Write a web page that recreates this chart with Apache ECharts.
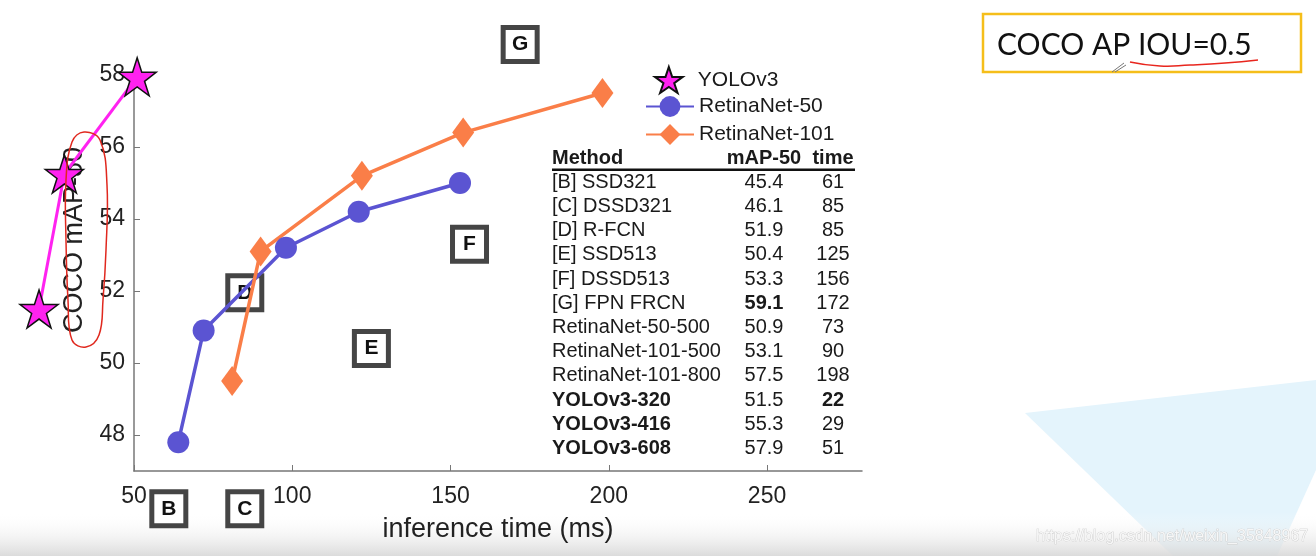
<!DOCTYPE html>
<html><head><meta charset="utf-8">
<script src="https://cdn.jsdelivr.net/npm/echarts@6/dist/echarts.min.js"></script>
<style>html,body{margin:0;padding:0;background:#fff}#c{width:1316px;height:556px}</style>
</head><body><div id="c"></div>
<script>
// ---- data ----
const yoloData = [[20, 51.5], [28, 55.25], [51, 57.95]];
const retina50Data = [[64, 47.8], [72, 50.9], [98, 53.2], [121, 54.2], [153, 55.0]];
const retina101Data = [[81, 49.5], [90, 53.1], [122, 55.2], [154, 56.4], [198, 57.5]];
const letterNames = ['B', 'C', 'D', 'E', 'F', 'G'];
const letterPos = [[61, 45.95], [85, 45.95], [85, 51.95], [125, 50.4], [156, 53.3], [172, 58.85]];
const xTicks = [50, 100, 150, 200, 250];
const yTicks = [48, 50, 52, 54, 56, 58];
const legendNames = ['YOLOv3', 'RetinaNet-50', 'RetinaNet-101'];
const tableHeader = ['Method', 'mAP-50', 'time'];
const tableMethods = ['[B] SSD321', '[C] DSSD321', '[D] R-FCN', '[E] SSD513', '[F] DSSD513', '[G] FPN FRCN',
  'RetinaNet-50-500', 'RetinaNet-101-500', 'RetinaNet-101-800', 'YOLOv3-320', 'YOLOv3-416', 'YOLOv3-608'];
const tableMap = ['45.4', '46.1', '51.9', '50.4', '53.3', '59.1', '50.9', '53.1', '57.5', '51.5', '55.3', '57.9'];
const tableTime = ['61', '85', '85', '125', '156', '172', '73', '90', '198', '22', '29', '51'];
const boldMethod = [0,0,0,0,0,0,0,0,0,1,1,1];
const boldMap = [0,0,0,0,0,1,0,0,0,0,0,0];
const boldTime = [0,0,0,0,0,0,0,0,0,1,0,0];

const FONT = '"Liberation Sans", Arial, Helvetica, sans-serif';
const STAR = 'path://M50,0 L61.8,35.1 L98.9,35.1 L69,56.8 L80.9,91.9 L50,70.2 L19.1,91.9 L31,56.8 L1.1,35.1 L38.2,35.1 Z';
const C_YOLO = '#FF22F0', C_R50 = '#5B54D2', C_R101 = '#FA7E48';

// ---- decoration / table graphics ----
const g = [];
g.push({type:'polygon', z:-10, silent:true, shape:{points:[[1025,413],[1316,380],[1316,470],[1277,556],[1173,556]]}, style:{fill:'#E4F4FC'}});
g.push({type:'rect', z:-9, silent:true, shape:{x:0,y:512,width:1316,height:44},
  style:{fill:{type:'linear',x:0,y:0,x2:0,y2:1,colorStops:[{offset:0,color:'rgba(255,255,255,0)'},{offset:1,color:'rgba(215,215,215,0.9)'}]}}});
g.push({type:'text', z:50, x:1036, y:537, style:{text:'https://blog.csdn.net/weixin_35848967', font:'16px '+FONT, fill:'#f7f7f7', stroke:'#c8c8c8', lineWidth:0.7, textVerticalAlign:'middle'}});
g.push({type:'rect', z:20, shape:{x:983,y:14,width:318,height:58}, style:{fill:'#fff', stroke:'#F5BE1A', lineWidth:2.5}});
g.push({type:'text', z:21, x:997, y:45, style:{text:'COCO AP IOU=0.5', font:'30px Lato, '+FONT, fill:'#111', textVerticalAlign:'middle'}});
g.push({type:'polyline', z:22, shape:{points:[[1130,62],[1160,66],[1190,65],[1225,63],[1258,60]], smooth:0.5}, style:{fill:'none', stroke:'#E8261E', lineWidth:1.5}});
g.push({type:'line', z:22, shape:{x1:1112,y1:72,x2:1124,y2:63}, style:{stroke:'#777', lineWidth:1}});
g.push({type:'line', z:22, shape:{x1:1115,y1:72,x2:1126,y2:65}, style:{stroke:'#777', lineWidth:1}});
g.push({type:'polygon', z:60, shape:{points:[[84,132],[100,140],[107,185],[106,250],[103,300],[99,335],[86,347],[72,340],[68,300],[66,240],[66,180],[72,142]], smooth:0.4}, style:{fill:'none', stroke:'#E0281E', lineWidth:1.5}});
const colX = [552, 764, 833];
const rowY0 = 158, rowH = 24.2;
function txt(t, x, y, bold, align){
  g.push({type:'text', z:30, x:x, y:y, style:{text:t, font:(bold?'bold ':'')+'20px '+FONT, fill:'#1a1a1a', textAlign:align, textVerticalAlign:'middle'}});
}
txt(tableHeader[0], colX[0], rowY0, true, 'left');
txt(tableHeader[1], colX[1], rowY0, true, 'center');
txt(tableHeader[2], colX[2], rowY0, true, 'center');
g.push({type:'rect', z:30, shape:{x:552,y:168.5,width:303,height:2.5}, style:{fill:'#111'}});
tableMethods.forEach((m,i)=>{
  const y = rowY0 + rowH*(i+1);
  txt(m, colX[0], y, boldMethod[i], 'left');
  txt(tableMap[i], colX[1], y, boldMap[i], 'center');
  txt(tableTime[i], colX[2], y, boldTime[i], 'center');
});

const legendTops = [66, 96, 124];
const legendLefts = [654, 645, 645];
const legends = legendNames.map((n, i) => ({
  orient:'vertical', left:legendLefts[i], top:legendTops[i], padding:0, itemWidth:48, itemHeight:26,
  textStyle:{fontSize:21, color:'#1a1a1a', fontFamily:FONT},
  data:[n]
}));

const chart = echarts.init(document.getElementById('c'));
chart.setOption({
  animation:false,
  backgroundColor:'#fff',
  textStyle:{fontFamily:FONT},
  grid:{left:134, right:454, top:75, bottom:85, containLabel:false},
  legend:legends,
  xAxis:{
    type:'value', min:50, max:280, interval:50,
    name:'inference time (ms)', nameLocation:'middle', nameGap:45,
    nameTextStyle:{fontSize:27, color:'#222', fontFamily:FONT},
    axisLine:{lineStyle:{color:'#777', width:1.5}},
    axisTick:{inside:true, length:6, lineStyle:{color:'#777'}, customValues:xTicks},
    axisLabel:{fontSize:23, color:'#222', margin:14, fontFamily:FONT, customValues:xTicks},
    splitLine:{show:false}
  },
  yAxis:{
    type:'value', min:47, max:58,
    name:'COCO mAP-50', nameLocation:'middle', nameGap:27, nameRotate:90,
    nameTextStyle:{fontSize:27, color:'#222', fontFamily:FONT, padding:[0,0,0,66]},
    axisLine:{show:true, lineStyle:{color:'#777', width:1.5}},
    axisTick:{inside:true, length:6, lineStyle:{color:'#777'}, customValues:yTicks},
    axisLabel:{fontSize:23, color:'#222', margin:9, fontFamily:FONT, customValues:yTicks},
    splitLine:{show:false}
  },
  series:[
    {name:'YOLOv3 line', type:'custom', data:yoloData, clip:false, z:4,
     renderItem:(params, api)=>{
       const i = params.dataIndex;
       if (i === 0) return null;
       const p = api.coord([api.value(0), api.value(1)]);
       const q = api.coord(yoloData[i-1]);
       return {type:'line', shape:{x1:q[0], y1:q[1], x2:p[0], y2:p[1]}, style:{stroke:C_YOLO, lineWidth:3}};
     }},
    {name:'YOLOv3', type:'scatter', data:yoloData, clip:false, z:5,
     symbol:STAR, symbolSize:38,
     itemStyle:{color:C_YOLO, borderColor:'#111', borderWidth:1.5, opacity:1}},
    {name:'RetinaNet-50', type:'line', data:retina50Data, clip:false, z:4,
     symbol:'circle', symbolSize:22, lineStyle:{color:C_R50, width:3.5},
     itemStyle:{color:C_R50, borderWidth:0}},
    {name:'RetinaNet-101', type:'line', data:retina101Data, clip:false, z:4,
     symbol:'diamond', symbolSize:[22,30], lineStyle:{color:C_R101, width:3.5},
     itemStyle:{color:C_R101, borderWidth:0}},
    {name:'letters', type:'scatter', data:letterPos, clip:false, z:3,
     symbol:'rect', symbolSize:34,
     itemStyle:{color:'#fff', borderColor:'#454545', borderWidth:5, opacity:1},
     label:{show:true, position:'inside', formatter:(p)=>letterNames[p.dataIndex], fontSize:21, fontWeight:'bold', color:'#111', fontFamily:FONT}}
  ],
  graphic:g
});
</script></body></html>
